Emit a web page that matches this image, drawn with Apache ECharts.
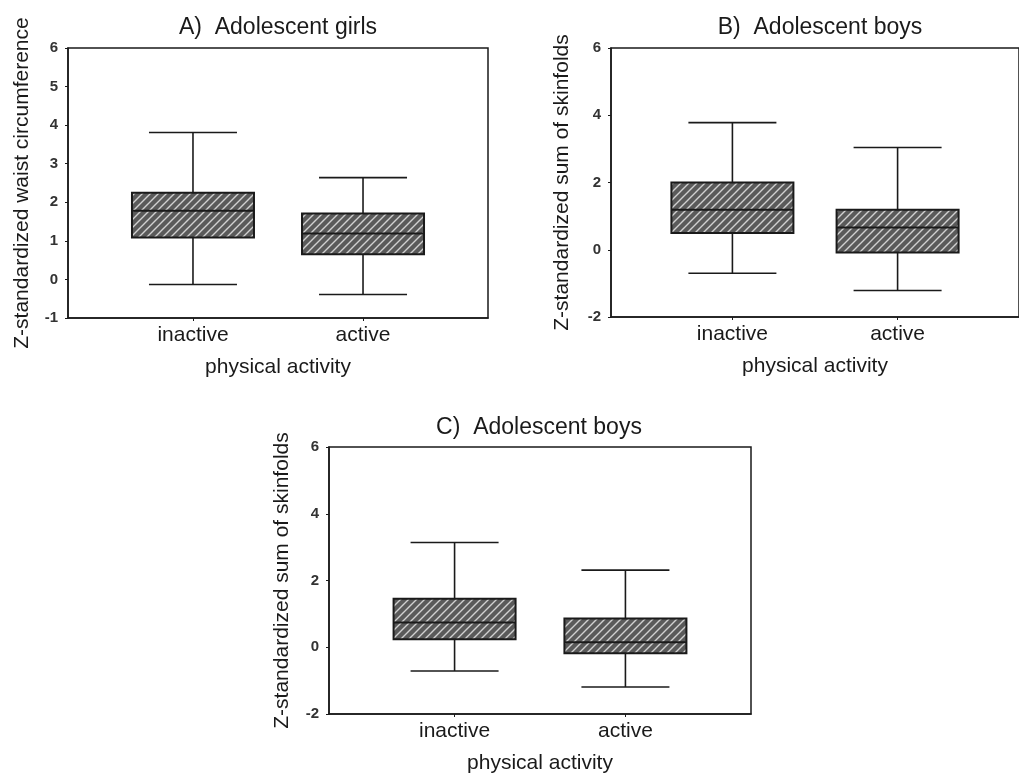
<!DOCTYPE html>
<html>
<head>
<meta charset="utf-8">
<script src="https://cdn.jsdelivr.net/npm/echarts@6/dist/echarts.min.js"></script>
<style>
  html, body { margin: 0; padding: 0; background: #fff; }
  #chart { width: 1019px; height: 775px; }
</style>
</head>
<body>
<div id="chart"></div>
<script>
// categories
const groups = ['inactive', 'active']
// box values: [low whisker, Q1, median, Q3, high whisker]
const girlsWaist = [
  [-0.13, 1.09, 1.78, 2.25, 3.81],
  [-0.39, 0.65, 1.19, 1.71, 2.64]
]
const boysSkinB = [
  [-0.70, 0.50, 1.19, 2.00, 3.78],
  [-1.21, -0.08, 0.66, 1.19, 3.04]
]
const boysSkinC = [
  [-0.71, 0.24, 0.74, 1.45, 3.14],
  [-1.19, -0.18, 0.15, 0.86, 2.31]
]
// tick labels
const ticksA = { min: -1, max: 6, interval: 1 }
const ticksBC = { min: -2, max: 6, interval: 2 }

const font = 'Liberation Sans, Arial, sans-serif'
const ink = '#1a1a1a'

// 斜线填充
function hatch () {
  const c = document.createElement('canvas')
  c.width = 8
  c.height = 8
  const ctx = c.getContext('2d')
  ctx.fillStyle = '#5a5a5a'
  ctx.fillRect(0, 0, 8, 8)
  ctx.strokeStyle = '#d0d0d0'
  ctx.lineWidth = 1.4
  ctx.beginPath()
  ctx.moveTo(-2, 10); ctx.lineTo(10, -2)
  ctx.moveTo(-6, 6); ctx.lineTo(6, -6)
  ctx.moveTo(2, 14); ctx.lineTo(14, 2)
  ctx.stroke()
  return c
}
const pattern = { image: hatch(), repeat: 'repeat' }

function toData (rows) {
  return rows.map((r, i) => [i].concat(r))
}

function renderBox (params, api) {
  const x = api.value(0)
  const cx = api.coord([x, 0])[0]
  const yLow = api.coord([x, api.value(1)])[1]
  const yQ1 = api.coord([x, api.value(2)])[1]
  const yMed = api.coord([x, api.value(3)])[1]
  const yQ3 = api.coord([x, api.value(4)])[1]
  const yHigh = api.coord([x, api.value(5)])[1]
  const half = 61
  const cap = 44
  const line = { stroke: ink, lineWidth: 1.6 }
  return {
    type: 'group',
    children: [
      { type: 'line', shape: { x1: cx, y1: yHigh, x2: cx, y2: yQ3 }, style: line },
      { type: 'line', shape: { x1: cx, y1: yQ1, x2: cx, y2: yLow }, style: line },
      { type: 'line', shape: { x1: cx - cap, y1: yHigh, x2: cx + cap, y2: yHigh }, style: line },
      { type: 'line', shape: { x1: cx - cap, y1: yLow, x2: cx + cap, y2: yLow }, style: line },
      { type: 'rect', shape: { x: cx - half, y: yQ3, width: half * 2, height: yQ1 - yQ3 },
        style: { fill: pattern, stroke: ink, lineWidth: 2 } },
      { type: 'line', shape: { x1: cx - half, y1: yMed, x2: cx + half, y2: yMed },
        style: { stroke: ink, lineWidth: 2 } }
    ]
  }
}

function xAxis (idx) {
  return {
    gridIndex: idx,
    type: 'value',
    min: -0.735,
    max: 1.735,
    name: 'physical activity',
    nameLocation: 'middle',
    nameGap: 39,
    nameTextStyle: { fontFamily: font, fontSize: 21, color: ink },
    axisLine: { show: true, onZero: false, lineStyle: { color: ink, width: 1.5 } },
    axisTick: { show: true, inside: false, length: 3, customValues: [0, 1], lineStyle: { color: ink } },
    axisLabel: {
      customValues: [0, 1],
      margin: 7,
      fontFamily: font,
      fontSize: 21,
      color: ink,
      formatter: v => groups[Math.round(v)] || ''
    },
    splitLine: { show: false }
  }
}

function yAxis (idx, ticks, name, gap) {
  return {
    gridIndex: idx,
    type: 'value',
    min: ticks.min,
    max: ticks.max,
    interval: ticks.interval,
    name: name,
    nameLocation: 'middle',
    nameGap: gap,
    nameTextStyle: { fontFamily: font, fontSize: 21, color: ink },
    axisLine: { show: true, onZero: false, lineStyle: { color: ink, width: 1.5 } },
    axisTick: { show: true, length: 3, lineStyle: { color: ink } },
    axisLabel: { margin: 10, fontFamily: font, fontSize: 15, fontWeight: 'bold', color: '#333' },
    splitLine: { show: false }
  }
}

function boxSeries (idx, rows) {
  return {
    type: 'custom',
    xAxisIndex: idx,
    yAxisIndex: idx,
    renderItem: renderBox,
    encode: { x: 0, y: [1, 2, 3, 4, 5] },
    data: toData(rows),
    clip: false,
    silent: true
  }
}

const titleStyle = { fontFamily: font, fontSize: 23, fontWeight: 'normal', color: ink }

const option = {
  backgroundColor: '#fff',
  animation: false,
  title: [
    { text: 'A)  Adolescent girls', left: 273, top: 11, textAlign: 'center', textStyle: titleStyle },
    { text: 'B)  Adolescent boys', left: 815, top: 11, textAlign: 'center', textStyle: titleStyle },
    { text: 'C)  Adolescent boys', left: 534, top: 411, textAlign: 'center', textStyle: titleStyle }
  ],
  grid: [
    { left: 68, top: 48, width: 420, height: 270, show: true, borderColor: ink, borderWidth: 1.5 },
    { left: 611, top: 48, width: 420, height: 269, show: true, borderColor: ink, borderWidth: 1.5 },
    { left: 329, top: 447, width: 422, height: 270, show: true, borderColor: ink, borderWidth: 1.5 }
  ],
  xAxis: [xAxis(0), xAxis(1), xAxis(2)],
  yAxis: [
    yAxis(0, ticksA, 'Z-standardized waist circumference', 35),
    yAxis(1, ticksBC, 'Z-standardized sum of skinfolds', 38),
    yAxis(2, ticksBC, 'Z-standardized sum of skinfolds', 36)
  ],
  series: [
    boxSeries(0, girlsWaist),
    boxSeries(1, boysSkinB),
    boxSeries(2, boysSkinC)
  ]
}

const chart = echarts.init(document.getElementById('chart'), null, { renderer: 'canvas' })
chart.setOption(option)
</script>
</body>
</html>
